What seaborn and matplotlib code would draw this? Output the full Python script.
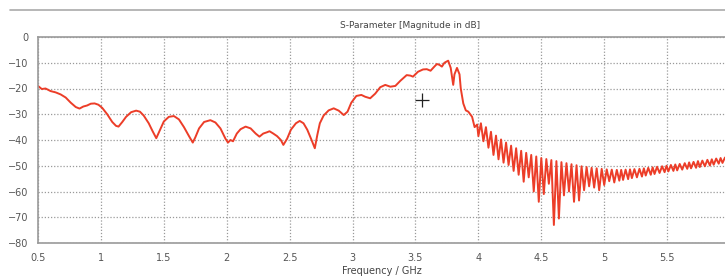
import numpy as np
import pandas as pd
import seaborn as sns
import matplotlib.pyplot as plt

# smooth part of the trace, 0.5 - 4 GHz
smooth_freq = [0.50, 0.53, 0.56, 0.60, 0.64, 0.68, 0.72, 0.76, 0.80, 0.83, 0.86, 0.89, 0.92, 0.95, 0.98,
               1.01, 1.05, 1.09, 1.12, 1.14, 1.17, 1.20, 1.24, 1.28, 1.31, 1.34, 1.38, 1.41, 1.44, 1.47,
               1.50, 1.54, 1.58, 1.62, 1.66, 1.70, 1.73, 1.75, 1.78, 1.82, 1.87, 1.91, 1.95, 1.99, 2.01,
               2.03, 2.05, 2.08, 2.11, 2.15, 2.19, 2.23, 2.26, 2.29, 2.32, 2.34, 2.37, 2.40, 2.43, 2.45,
               2.48, 2.51, 2.55, 2.58, 2.61, 2.64, 2.67, 2.70, 2.72, 2.74, 2.77, 2.81, 2.85, 2.89, 2.93,
               2.96, 2.99, 3.03, 3.07, 3.10, 3.14, 3.18, 3.22, 3.26, 3.30, 3.34, 3.38, 3.43, 3.46, 3.48,
               3.52, 3.56, 3.59, 3.62, 3.65, 3.67, 3.69, 3.71, 3.73, 3.76, 3.78, 3.80, 3.81, 3.83, 3.85,
               3.86, 3.88, 3.90, 3.92, 3.95, 3.97, 3.99]
smooth_db = [-19.0, -20.2, -20.0, -21.0, -21.5, -22.3, -23.5, -25.5, -27.2, -27.8, -27.0, -26.6, -25.9, -25.8, -26.3,
             -27.5, -30.0, -33.0, -34.5, -34.8, -33.0, -31.0, -29.2, -28.6, -29.0, -30.5, -33.5, -36.5, -39.3, -36.0,
             -32.8, -31.0, -30.7, -32.0, -35.0, -38.5, -41.0, -39.0, -35.5, -33.0, -32.3, -33.2, -35.5, -39.5, -41.0,
             -40.0, -40.5, -37.5, -35.8, -34.8, -35.5, -37.5, -38.7, -37.5, -37.0, -36.6, -37.5, -38.5, -40.0, -41.9,
             -39.5, -36.0, -33.5, -32.6, -33.5, -36.0, -39.5, -43.2, -38.0, -33.5, -30.5, -28.5, -27.7, -28.6, -30.3,
             -29.0, -25.5, -22.9, -22.5, -23.2, -23.8, -22.0, -19.5, -18.6, -19.3, -19.0, -17.0, -14.8, -15.0, -15.4,
             -13.5, -12.6, -12.5, -13.1, -11.5, -10.5, -10.8, -11.5, -10.0, -9.2, -12.0, -18.6, -14.5, -12.0, -14.5,
             -20.0, -25.8, -28.5, -29.0, -31.0, -35.0, -34.0]

# ripple region above 4 GHz: troughs and peaks
trough_freq = [4.00, 4.04, 4.08, 4.12, 4.16, 4.20, 4.24, 4.28, 4.32, 4.36, 4.40, 4.44, 4.48, 4.52, 4.56,
               4.60, 4.64, 4.68, 4.72, 4.76, 4.80, 4.84, 4.88, 4.92, 4.96, 5.00, 5.04, 5.08, 5.12, 5.15,
               5.19, 5.22, 5.26, 5.30, 5.33, 5.37, 5.40, 5.44, 5.48, 5.51, 5.55, 5.58, 5.62, 5.66, 5.69,
               5.73, 5.76, 5.80, 5.84, 5.87, 5.91, 5.94]
trough_db = [-38.5, -40.5, -43.0, -45.8, -47.5, -48.8, -49.7, -52.0, -53.5, -56.2, -54.5, -60.0, -64.0, -61.0, -57.0,
             -73.0, -70.5, -61.5, -60.0, -64.0, -63.5, -59.5, -58.0, -58.5, -59.5, -57.5, -56.0, -56.5, -55.8, -55.5,
             -55.2, -54.8, -54.5, -54.2, -53.8, -53.5, -53.2, -52.8, -52.5, -52.2, -52.0, -51.8, -51.5, -51.2, -51.0,
             -50.8, -50.5, -50.2, -49.9, -49.6, -49.2, -48.9]
peak_freq = [4.02, 4.06, 4.10, 4.14, 4.18, 4.22, 4.26, 4.30, 4.34, 4.38, 4.42, 4.46, 4.50, 4.54, 4.58,
             4.62, 4.66, 4.70, 4.74, 4.78, 4.82, 4.86, 4.90, 4.94, 4.98, 5.02, 5.06, 5.10, 5.135, 5.17,
             5.205, 5.24, 5.28, 5.315, 5.35, 5.385, 5.42, 5.46, 5.495, 5.53, 5.565, 5.60, 5.64, 5.675, 5.71,
             5.745, 5.78, 5.82, 5.855, 5.89, 5.925, 5.96]
peak_db = [-33.5, -35.0, -36.8, -38.3, -39.8, -41.0, -42.2, -43.2, -44.2, -45.0, -45.8, -46.4, -47.0, -47.4, -47.8,
           -48.2, -48.6, -49.0, -49.4, -49.8, -50.2, -50.5, -50.8, -51.0, -51.2, -51.4, -51.5, -51.6, -51.6, -51.5,
           -51.4, -51.3, -51.2, -51.0, -50.8, -50.6, -50.4, -50.2, -50.0, -49.7, -49.5, -49.3, -49.0, -48.7, -48.5,
           -48.2, -48.0, -47.7, -47.5, -47.2, -47.0, -46.8]

# mouse cursor seen in the screenshot
cursor_freq, cursor_db = 3.55, -24.5

x_ticks = [0.5, 1, 1.5, 2, 2.5, 3, 3.5, 4, 4.5, 5, 5.5]
y_ticks = [0, -10, -20, -30, -40, -50, -60, -70, -80]

df = pd.concat([
    pd.DataFrame({"freq": smooth_freq, "db": smooth_db}),
    pd.DataFrame({"freq": trough_freq, "db": trough_db}),
    pd.DataFrame({"freq": peak_freq, "db": peak_db}),
]).sort_values("freq").reset_index(drop=True)

sns.set_style("white")
plt.rcParams["font.family"] = ["DejaVu Sans"]

W, H = 725, 280
fig = plt.figure(figsize=(W / 100, H / 100), dpi=100)
ax = fig.add_axes([38 / W, (H - 243) / H, (W - 38) / W, (243 - 37) / H])

sns.lineplot(data=df, x="freq", y="db", ax=ax, color="#ec3d28", linewidth=1.4, sort=False)
ax.plot([cursor_freq], [cursor_db], marker="+", color="#222222", markersize=10, markeredgewidth=0.9)

ax.set_xlim(0.5, 5.96)
ax.set_ylim(-80, 0)
ax.set_xticks(x_ticks)
ax.set_xticklabels([("%g" % t) for t in x_ticks])
ax.set_yticks(y_ticks)
ax.grid(True, color="#9a9a9a", linestyle=(0, (1, 1.5)), linewidth=0.9)
ax.tick_params(labelsize=7, colors="#555555", length=3, width=0.8, direction="out", pad=4)
for s in ["left", "bottom", "top"]:
    ax.spines[s].set_color("#9a9a9a")
    ax.spines[s].set_linewidth(1.2)
ax.spines["right"].set_visible(False)
ax.set_xlabel("Frequency / GHz", fontsize=7, color="#444444", labelpad=2)
ax.set_ylabel("")

# title bar above the plot
fig.add_artist(plt.Line2D([10 / W, 1], [(H - 10) / H, (H - 10) / H], color="#aaaaaa", linewidth=1.2))
fig.text(410 / W, (H - 25) / H, "S-Parameter [Magnitude in dB]", fontsize=6.5, color="#444444",
         ha="center", va="center")

fig.savefig("out.png", dpi=100)
